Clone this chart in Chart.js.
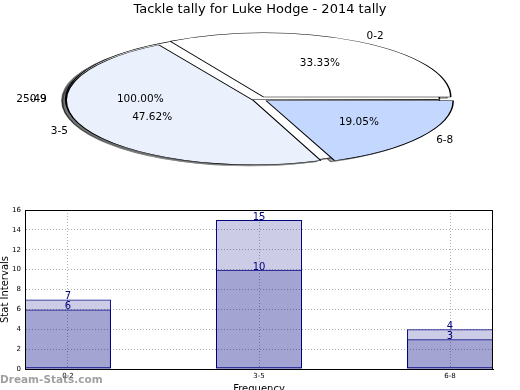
<!DOCTYPE html>
<html>
<head>
<meta charset="utf-8">
<script src="https://cdn.jsdelivr.net/npm/chart.js@4.4.1/dist/chart.umd.min.js"></script>
<style>
  html, body { margin: 0; padding: 0; background: #fff; }
  #wrap { position: relative; width: 520px; height: 390px; overflow: hidden; }
  #pieBack, #pie { position: absolute; left: 0; top: 0; }
  #bars { position: absolute; left: 0; top: 200px; }
  #mark { position: absolute; left: 0; top: 373px; font: bold 10.5px "DejaVu Sans"; color: rgba(120, 120, 120, 0.7); }
</style>
</head>
<body>
<div id="wrap">
  <canvas id="pieBack" width="520" height="200"></canvas>
  <canvas id="pie" width="520" height="200"></canvas>
  <canvas id="bars" width="520" height="190"></canvas>
  <div id="mark">Dream-Stats.com</div>
</div>
<script>
// data
const categories = ["0-2", "3-5", "6-8"];
const pieValues = [7, 10, 4];
const upperValues = [7, 15, 4];
const lowerValues = [6, 10, 3];
const pieColors = ["#ffffff", "#eaf1fd", "#c4d8ff"];
// leftover group drawn as a full pie behind the real one
const strayLabels = ["25-49", "0-9"];
const strayValues = [1];

Chart.defaults.font.family = "DejaVu Sans";
Chart.defaults.color = "#000";

// pie is drawn in a circle and squashed into an ellipse
const squash = 0.344;
const explode = 30; // chart.js uses offset / 4
const pieRadius = 187;

const pieLabels = categories.slice().reverse();
const pieTotal = pieValues.reduce((a, b) => a + b, 0);

function squashAround(chart) {
  const a = chart.chartArea;
  const cy = (a.top + a.bottom) / 2;
  chart.ctx.translate(0, cy);
  chart.ctx.scale(1, squash);
  chart.ctx.translate(0, -cy);
}

const trimOffset = {
  id: "trimOffset",
  afterDatasetsUpdate(chart) {
    // chart.js grows big exploded slices a bit, undo that
    chart.getDatasetMeta(0).data.forEach(arc => {
      const fix = 1 - Math.sin(Math.min(Math.PI, arc.circumference || 0));
      arc.outerRadius -= (arc.options.offset / 4) * fix;
    });
  }
};

const pieShape = {
  id: "pieShape",
  beforeDatasetsDraw(chart) {
    chart.ctx.save();
    squashAround(chart);
  },
  afterDatasetsDraw(chart) {
    chart.ctx.restore();
  },
  afterDraw(chart) {
    const ctx = chart.ctx;
    const meta = chart.getDatasetMeta(0);
    const vals = chart.data.datasets[0].data;
    const R = meta.controller.outerRadius;
    ctx.save();
    ctx.fillStyle = "#000";
    ctx.font = "10.5px DejaVu Sans";
    ctx.textBaseline = "middle";
    let off = 0, x0 = 0, y0 = 0;
    meta.data.forEach((arc, i) => {
      const mid = (arc.startAngle + arc.endAngle) / 2;
      off = arc.options.offset / 4;
      x0 = arc.x; y0 = arc.y;
      const c = Math.cos(mid), s = Math.sin(mid);
      const cx = arc.x + c * off;
      const cy = arc.y + s * off * squash;
      ctx.textAlign = "center";
      ctx.fillText((vals[i] / pieTotal * 100).toFixed(2) + "%", cx + c * 0.6 * R, cy + s * 0.6 * R * squash);
      ctx.textAlign = c >= 0 ? "left" : "right";
      ctx.fillText(pieLabels[i], cx + c * 1.1 * R, cy + s * 1.1 * R * squash);
    });
    // labels of the full pie behind (its slice points left)
    ctx.textAlign = "right";
    strayLabels.forEach(t => ctx.fillText(t, x0 - off - 1.1 * R, y0));
    ctx.textAlign = "center";
    const strayTotal = strayValues.reduce((a, b) => a + b, 0);
    ctx.fillText((strayValues[0] / strayTotal * 100).toFixed(2) + "%", x0 - off - 0.6 * R, y0);
    ctx.restore();
  }
};

const mainPie = new Chart(document.getElementById("pie"), {
  type: "pie",
  data: {
    labels: pieLabels,
    datasets: [{
      data: pieValues.slice().reverse(),
      backgroundColor: pieColors.slice().reverse(),
      borderColor: "#000",
      borderWidth: 1.5,
      offset: explode
    }]
  },
  options: {
    responsive: false,
    animation: false,
    rotation: 90,
    radius: pieRadius,
    layout: { padding: { top: 0, bottom: 21, left: 0, right: 0 } },
    plugins: {
      legend: { display: false },
      tooltip: { enabled: false },
      title: {
        display: true,
        text: "Tackle tally for Luke Hodge - 2014 tally",
        color: "#000",
        font: { size: 13, weight: "normal" },
        padding: { top: 2, bottom: 2 }
      }
    }
  },
  plugins: [trimOffset, pieShape]
});

// back layer: shadows of every slice, then the full pie
const backShape = {
  id: "backShape",
  beforeDatasetsDraw(chart) {
    const ctx = chart.ctx;
    const meta = chart.getDatasetMeta(0);
    const R = meta.controller.outerRadius;
    ctx.save();
    squashAround(chart);
    ctx.save();
    ctx.translate(-0.02 * R, 0.02 * R);
    ctx.filter = "brightness(0.3) opacity(0.5)";
    meta.data.forEach(arc => arc.draw(ctx));
    mainPie.getDatasetMeta(0).data.forEach(arc => arc.draw(ctx));
    ctx.restore();
  },
  afterDatasetsDraw(chart) {
    chart.ctx.restore();
  }
};

new Chart(document.getElementById("pieBack"), {
  type: "pie",
  data: {
    labels: strayLabels.slice(0, 1),
    datasets: [{
      data: strayValues,
      backgroundColor: "#ffffff",
      borderColor: "#000",
      borderWidth: 1.5,
      offset: explode
    }]
  },
  options: {
    responsive: false,
    animation: false,
    rotation: 90,
    radius: pieRadius,
    layout: { padding: { top: 19.6, bottom: 21, left: 0, right: 0 } },
    plugins: { legend: { display: false }, tooltip: { enabled: false } }
  },
  plugins: [trimOffset, backShape]
});

// bar chart
const barDecor = {
  id: "barDecor",
  afterDraw(chart) {
    const ctx = chart.ctx;
    const a = chart.chartArea;
    ctx.save();
    ctx.strokeStyle = "#000";
    ctx.lineWidth = 1;
    ctx.strokeRect(Math.round(a.left) + 0.5, Math.round(a.top) + 0.5, Math.round(a.right - a.left) - 1, Math.round(a.bottom - a.top));
    ctx.fillStyle = "#000080";
    ctx.font = "10px DejaVu Sans";
    ctx.textAlign = "center";
    ctx.textBaseline = "alphabetic";
    chart.data.datasets.forEach((ds, d) => {
      chart.getDatasetMeta(d).data.forEach((bar, i) => {
        ctx.fillText(String(ds.data[i].y), bar.x, bar.y);
      });
    });
    ctx.fillStyle = "#000";
    ctx.font = "10px DejaVu Sans";
    ctx.textBaseline = "top";
    ctx.fillText("Frequency", (a.left + a.right) / 2, 184);
    ctx.translate(5, (a.top + a.bottom) / 2);
    ctx.rotate(-Math.PI / 2);
    ctx.textBaseline = "middle";
    ctx.fillText("Stat Intervals", 0, 0);
    ctx.restore();
  }
};

const barStyle = {
  backgroundColor: "rgba(0, 0, 128, 0.2)",
  borderColor: "#000080",
  borderWidth: 1,
  borderSkipped: false,
  grouped: false,
  barPercentage: 0.45,
  categoryPercentage: 1
};

new Chart(document.getElementById("bars"), {
  type: "bar",
  data: {
    datasets: [
      Object.assign({ data: upperValues.map((v, i) => ({ x: i, y: v })) }, barStyle),
      Object.assign({ data: lowerValues.map((v, i) => ({ x: i, y: v })) }, barStyle)
    ]
  },
  options: {
    responsive: false,
    animation: false,
    layout: { padding: { left: 0, top: 10, right: 27, bottom: 0 } },
    plugins: { legend: { display: false }, tooltip: { enabled: false } },
    scales: {
      x: {
        type: "linear",
        min: -0.225,
        max: 2.225,
        offset: false,
        afterFit(s) { s.height = 21; },
        ticks: {
          stepSize: 1,
          includeBounds: false,
          autoSkip: false,
          maxRotation: 0,
          padding: 3,
          font: { size: 7 },
          callback: v => categories[v] ?? ""
        },
        grid: { color: "#b0b0b0", drawTicks: false, offset: false },
        border: { color: "#000", dash: [1, 2] }
      },
      y: {
        min: 0,
        max: 16,
        afterFit(s) { s.width = 25; },
        ticks: { stepSize: 2, padding: 4, font: { size: 7 } },
        grid: { color: "#b0b0b0", drawTicks: false },
        border: { color: "#000", dash: [1, 2] }
      }
    }
  },
  plugins: [barDecor]
});
</script>
</body>
</html>
